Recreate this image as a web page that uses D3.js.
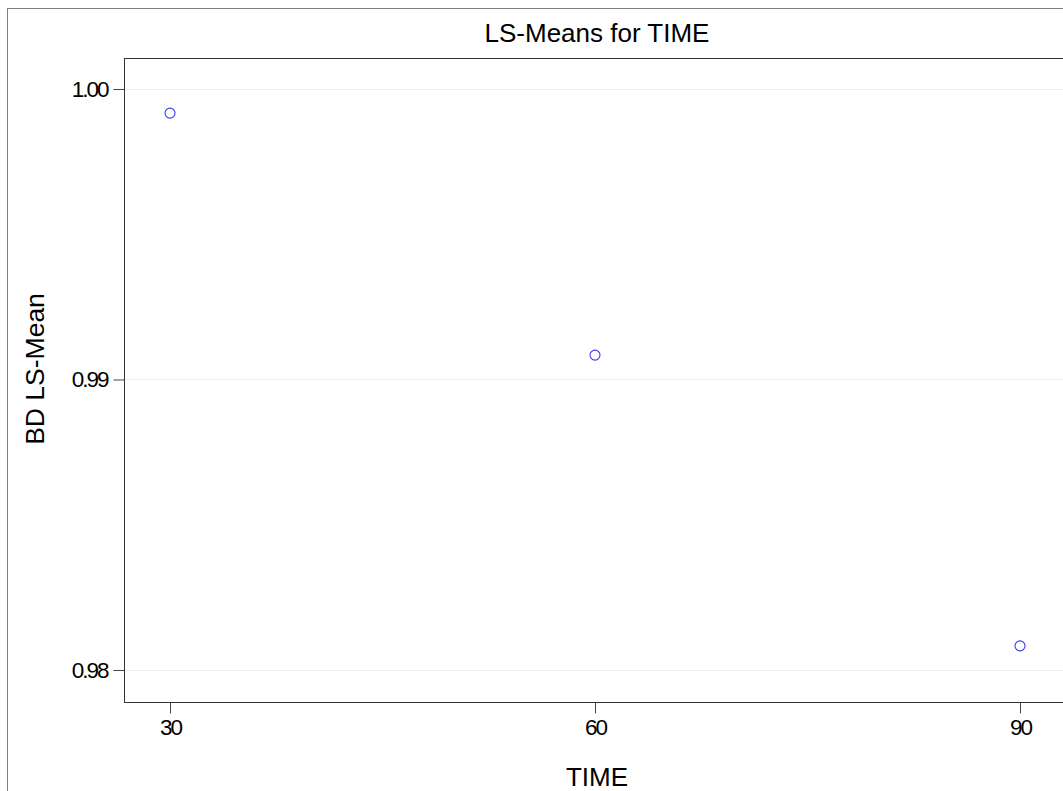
<!DOCTYPE html>
<html>
<head>
<meta charset="utf-8">
<script src="https://cdn.jsdelivr.net/npm/d3@7"></script>
<style>
  html, body { margin: 0; padding: 0; background: #fff; }
  svg { display: block; }
  text { font-family: "Liberation Sans", Arial, sans-serif; fill: #000; }
</style>
</head>
<body>
<svg id="chart" width="1063" height="791"></svg>
<script>
const times = [30, 60, 90];
const lsMeans = [0.99917, 0.99084, 0.98083];
const yTicks = [0.98, 0.99, 1.00];
const xTicks = [30, 60, 90];
const title = "LS-Means for TIME";
const xLabel = "TIME";
const yLabel = "BD LS-Mean";

const svg = d3.select("#chart");
const plot = { left: 124, top: 58, right: 1066, bottom: 702 };

// outer border
svg.append("rect")
  .attr("x", 7.5).attr("y", 8.5)
  .attr("width", 1080).attr("height", 800)
  .attr("fill", "none").attr("stroke", "#808080").attr("stroke-width", 1);

const x = d3.scaleLinear().domain([26.753, 93.247]).range([plot.left, plot.right]);
const y = d3.scaleLinear().domain([0.978898, 1.001067]).range([plot.bottom, plot.top]);

// gridlines
svg.append("g").selectAll("line").data(yTicks).join("line")
  .attr("x1", plot.left).attr("x2", plot.right)
  .attr("y1", d => Math.round(y(d)) + 0.5).attr("y2", d => Math.round(y(d)) + 0.5)
  .attr("stroke", "#ebebeb").attr("stroke-width", 1);

// y axis
const yAxis = svg.append("g").attr("transform", `translate(${plot.left + 0.5},0)`)
  .call(d3.axisLeft(y).tickValues(yTicks).tickFormat(d3.format(".2f")).tickSize(11).tickPadding(6));
yAxis.select(".domain").remove();
yAxis.selectAll(".tick line").attr("stroke", "#444");
yAxis.selectAll(".tick text")
  .attr("font-size", 22.5).attr("letter-spacing", "-2px")
  .attr("font-family", "'Liberation Sans', Arial, sans-serif").attr("fill", "#000");

// x axis
const xAxis = svg.append("g").attr("transform", `translate(0,${plot.bottom + 0.5})`)
  .call(d3.axisBottom(x).tickValues(xTicks).tickFormat(d3.format("d")).tickSize(11).tickPadding(6));
xAxis.select(".domain").remove();
xAxis.selectAll(".tick line").attr("stroke", "#444");
xAxis.selectAll(".tick text")
  .attr("font-size", 22.5).attr("letter-spacing", "-2px")
  .attr("font-family", "'Liberation Sans', Arial, sans-serif").attr("fill", "#000");

// plot frame
svg.append("rect")
  .attr("x", plot.left + 0.5).attr("y", plot.top + 0.5)
  .attr("width", plot.right - plot.left).attr("height", plot.bottom - plot.top)
  .attr("fill", "none").attr("stroke", "#333").attr("stroke-width", 1);

// points
svg.append("g").selectAll("circle").data(times.map((t, i) => ({ t, v: lsMeans[i] }))).join("circle")
  .attr("cx", d => x(d.t)).attr("cy", d => y(d.v))
  .attr("r", 5)
  .attr("fill", "none").attr("stroke", "#3a3ae6").attr("stroke-width", 1.1);

// title
svg.append("text")
  .attr("x", 597).attr("y", 42)
  .attr("text-anchor", "middle").attr("font-size", 26)
  .text(title);

// x label
svg.append("text")
  .attr("x", 597).attr("y", 786)
  .attr("text-anchor", "middle").attr("font-size", 26)
  .text(xLabel);

// y label
svg.append("text")
  .attr("transform", "translate(44,369) rotate(-90)")
  .attr("text-anchor", "middle").attr("font-size", 26.5)
  .text(yLabel);
</script>
</body>
</html>
